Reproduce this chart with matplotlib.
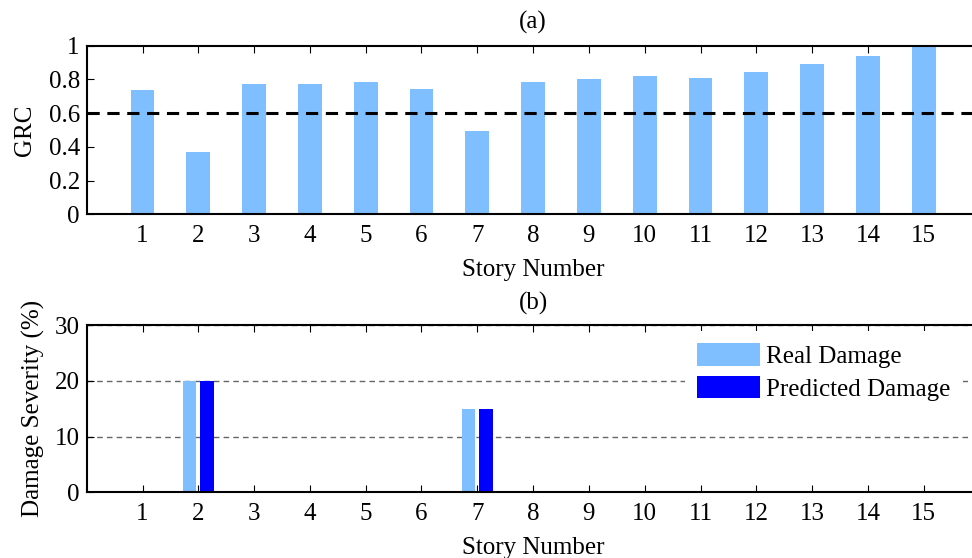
import matplotlib
matplotlib.use("Agg")
import matplotlib.pyplot as plt
import numpy as np

plt.rcParams['font.family'] = ['Liberation Serif', 'DejaVu Serif']

stories = list(range(1, 16))
grc = [0.737, 0.37, 0.773, 0.773, 0.783, 0.743, 0.496, 0.783, 0.80, 0.82, 0.808, 0.846, 0.891, 0.939, 1.0]
threshold = 0.6
real_damage = [0, 20, 0, 0, 0, 0, 15, 0, 0, 0, 0, 0, 0, 0, 0]
pred_damage = [0.3, 20, 0.3, 0.3, 0.3, 0.3, 15, 0.3, 0.3, 0.3, 0.3, 0.3, 0.3, 0.3, 0.3]

light = '#80BFFF'
dark = '#0000FF'
fs = 18

fig = plt.figure(figsize=(9.72, 5.58), dpi=100)
W, H = 972, 558
def pos(l, t, r, b):
    return [l / W, 1 - b / H, (r - l) / W, (b - t) / H]

ax1 = fig.add_axes(pos(86.7, 45.7, 979.5, 214.3))
x = np.array(stories)
ax1.bar(x, grc, width=0.43, color=light, zorder=2)
ax1.axhline(threshold, color='black', linestyle=(0, (4, 2.5)), linewidth=2.2, zorder=3)
ax1.set_xlim(0, 16)
ax1.set_ylim(0, 1)
ax1.set_xticks(stories)
ax1.set_yticks([0, 0.2, 0.4, 0.6, 0.8, 1])
ax1.set_yticklabels(['0', '0.2', '0.4', '0.6', '0.8', '1'])
ax1.set_ylabel('GRC', fontsize=fs, labelpad=9)
ax1.set_xlabel('Story Number', fontsize=fs, labelpad=8)
ax1.set_title('(a)', fontsize=fs, pad=12)
ax1.tick_params(direction='in', top=True, right=True, labelsize=fs, length=5, pad=5)
ax1.tick_params(axis='x', pad=8)

ax2 = fig.add_axes(pos(86.7, 325, 979.5, 492.3))
ax2.bar(x - 0.155, real_damage, width=0.245, color=light, label='Real Damage', zorder=2)
ax2.bar(x + 0.155, pred_damage, width=0.245, color=dark, label='Predicted Damage', zorder=2)
ax2.set_xlim(0, 16)
ax2.set_ylim(0, 30)
ax2.set_xticks(stories)
ax2.set_yticks([0, 10, 20, 30])
ax2.yaxis.grid(True, linestyle=(0, (4, 3)), color='#666666', linewidth=1, zorder=1)
ax2.set_axisbelow(True)
ax2.set_ylabel('Damage Severity (%)', fontsize=fs, labelpad=7)
ax2.set_xlabel('Story Number', fontsize=fs, labelpad=8)
ax2.set_title('(b)', fontsize=fs, pad=11)
ax2.tick_params(direction='in', top=True, right=True, labelsize=fs, length=5, pad=5)
ax2.tick_params(axis='x', pad=8)
leg = ax2.legend(loc='upper left', bbox_to_anchor=(0.670, 0.965), frameon=True, fancybox=False,
                 facecolor='white', edgecolor='white', framealpha=1.0, fontsize=fs,
                 handlelength=2.5, handleheight=1.0, handletextpad=0.25, labelspacing=0.32,
                 borderaxespad=0, borderpad=0.5)
leg.get_frame().set_linewidth(0)

for ax in (ax1, ax2):
    for s in ax.spines.values():
        s.set_linewidth(1.5)

fig.savefig('out.png', dpi=100)
